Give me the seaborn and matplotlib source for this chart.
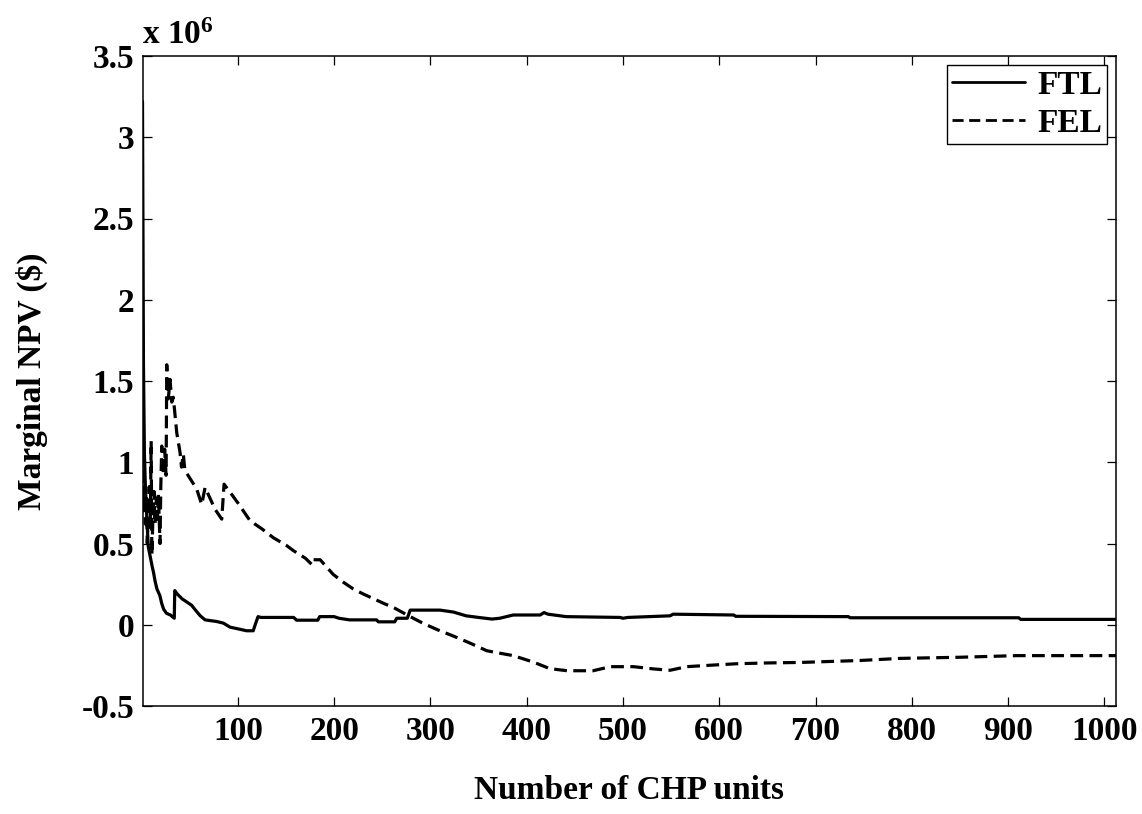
import matplotlib
matplotlib.use("Agg")
import matplotlib.pyplot as plt
import seaborn as sns
import numpy as np

# ---- data (values in units of 10^6 $) ----
ftl_x = [1, 2, 3, 4, 5, 6, 7, 9, 11, 12.5, 14, 16, 19, 21, 23, 26, 30, 34, 34.5, 37, 42, 47,
         52, 56, 61, 66, 72, 78, 85, 92, 100, 109, 116, 118, 121, 124, 158, 161, 183, 185,
         200, 205, 216, 244, 246, 263, 265, 276, 279, 310, 324, 337, 350, 364, 372, 386,
         414, 418, 422, 441, 497, 500, 505, 549, 552, 615, 617, 734, 736, 911, 913, 1012]
ftl_y = [3.22, 1.60, 1.05, 0.85, 0.72, 0.60, 0.48, 0.42, 0.36, 0.32, 0.27, 0.22, 0.18, 0.13,
         0.095, 0.07, 0.06, 0.04, 0.21, 0.19, 0.16, 0.14, 0.12, 0.09, 0.055, 0.03, 0.025,
         0.02, 0.01, -0.015, -0.025, -0.037, -0.037, 0.0, 0.05, 0.045, 0.045, 0.028, 0.028,
         0.05, 0.05, 0.04, 0.03, 0.03, 0.018, 0.018, 0.04, 0.04, 0.09, 0.09, 0.078, 0.055,
         0.045, 0.035, 0.04, 0.06, 0.06, 0.075, 0.065, 0.05, 0.045, 0.04, 0.045, 0.055,
         0.065, 0.06, 0.052, 0.05, 0.043, 0.043, 0.033, 0.033]

fel_x = [1, 2, 3, 4, 5, 6, 7, 8, 9, 10, 10.7, 12, 13, 14, 15.5, 16.5, 17.5, 19.2, 20, 21,
         22.7, 24, 25.5, 26.2, 27.8, 29.6, 31.4, 33, 36.6, 40, 41.5, 43.4, 45, 50.4, 57.3,
         62.5, 66, 71, 76.4, 83.3, 85.7, 92, 100, 112.7, 125, 137, 150, 158, 170, 177, 178,
         185.5, 199, 210, 220, 230, 241, 252, 262, 279, 292, 307, 324, 340, 358.6, 372, 386,
         407, 424, 442, 469, 487, 511, 532, 549, 566, 594, 618, 650, 684, 746, 788, 850,
         909, 1012]
fel_y = [0.95, 0.70, 0.85, 0.62, 0.80, 0.50, 0.75, 0.85, 0.60, 1.13, 0.43, 0.70, 0.82, 0.62,
         0.78, 0.65, 0.80, 0.50, 0.85, 1.10, 0.92, 1.08, 0.92, 1.60, 1.39, 1.51, 1.37, 1.40,
         1.18, 1.06, 0.97, 1.05, 0.95, 0.90, 0.835, 0.74, 0.845, 0.78, 0.71, 0.65, 0.865,
         0.815, 0.75, 0.64, 0.59, 0.535, 0.49, 0.455, 0.41, 0.37, 0.40, 0.40, 0.31, 0.26,
         0.22, 0.19, 0.16, 0.13, 0.105, 0.05, 0.01, -0.03, -0.07, -0.11, -0.16, -0.175,
         -0.19, -0.23, -0.27, -0.283, -0.283, -0.258, -0.258, -0.272, -0.28, -0.258, -0.248,
         -0.24, -0.235, -0.232, -0.22, -0.207, -0.20, -0.19, -0.19]

x_ticks = [100, 200, 300, 400, 500, 600, 700, 800, 900, 1000]
y_ticks = [-0.5, 0, 0.5, 1, 1.5, 2, 2.5, 3, 3.5]
y_tick_labels = ["-0.5", "0", "0.5", "1", "1.5", "2", "2.5", "3", "3.5"]
series_names = ["FTL", "FEL"]

# ---- style ----
sns.set_style("white")
plt.rcParams["font.family"] = ["Liberation Serif", "DejaVu Serif"]
plt.rcParams["font.weight"] = "bold"
plt.rcParams["mathtext.fontset"] = "custom"
plt.rcParams["mathtext.rm"] = "Liberation Serif:bold"
plt.rcParams["mathtext.it"] = "Liberation Serif:bold"
plt.rcParams["mathtext.bf"] = "Liberation Serif:bold"

FS = 24

fig = plt.figure(figsize=(11.42, 8.14), dpi=100)
W, H = 1142, 814
ax = fig.add_axes([142.5 / W, 1 - 706 / H, (1116 - 142.5) / W, (706 - 56) / H])

sns.lineplot(x=ftl_x, y=ftl_y, ax=ax, color="black", linewidth=2.3, sort=False,
             estimator=None, label=series_names[0])
sns.lineplot(x=fel_x, y=fel_y, ax=ax, color="black", linewidth=2.3, sort=False,
             estimator=None, label=series_names[1])
lines = ax.get_lines()
lines[1].set_dashes([4, 2])

ax.set_xlim(1, 1012)
ax.set_ylim(-0.5, 3.5)
ax.set_xticks(x_ticks)
ax.set_xticklabels([str(t) for t in x_ticks])
ax.set_yticks(y_ticks)
ax.set_yticklabels(y_tick_labels)

for s in ax.spines.values():
    s.set_visible(True)
    s.set_color("black")
    s.set_linewidth(1.1)

ax.tick_params(axis="both", which="both", direction="in", length=6.5, width=0.9,
               top=True, right=True, bottom=True, left=True, colors="black",
               labelsize=FS)
ax.tick_params(axis="x", pad=7)
ax.tick_params(axis="y", pad=6)
for lab in ax.get_xticklabels() + ax.get_yticklabels():
    lab.set_fontweight("bold")

ax.set_xlabel("Number of CHP units", fontsize=FS, fontweight="bold", color="black")
ax.set_ylabel("Marginal NPV ($)", fontsize=FS, fontweight="bold", color="black")
ax.xaxis.set_label_coords(0.5, -0.106)
ax.yaxis.set_label_coords(-0.097, 0.5)

ax.text(0.0, 1.008, r"x 10$^{6}$", transform=ax.transAxes, ha="left", va="bottom",
        fontsize=FS, fontweight="bold", color="black")

leg = ax.legend(loc="upper right", bbox_to_anchor=(1 - 9 / 973.5, 1 - 9 / 650),
                borderaxespad=0, fontsize=FS, frameon=True, fancybox=False,
                handlelength=2.2, handletextpad=0.35, borderpad=0.15, labelspacing=0.2)
leg.get_frame().set_edgecolor("black")
leg.get_frame().set_linewidth(1.0)
leg.get_frame().set_alpha(1)
for t in leg.get_texts():
    t.set_fontweight("bold")
    t.set_color("black")
for h in leg.get_lines():
    h.set_linewidth(2.0)

fig.savefig("out.png", dpi=100, facecolor="white")
